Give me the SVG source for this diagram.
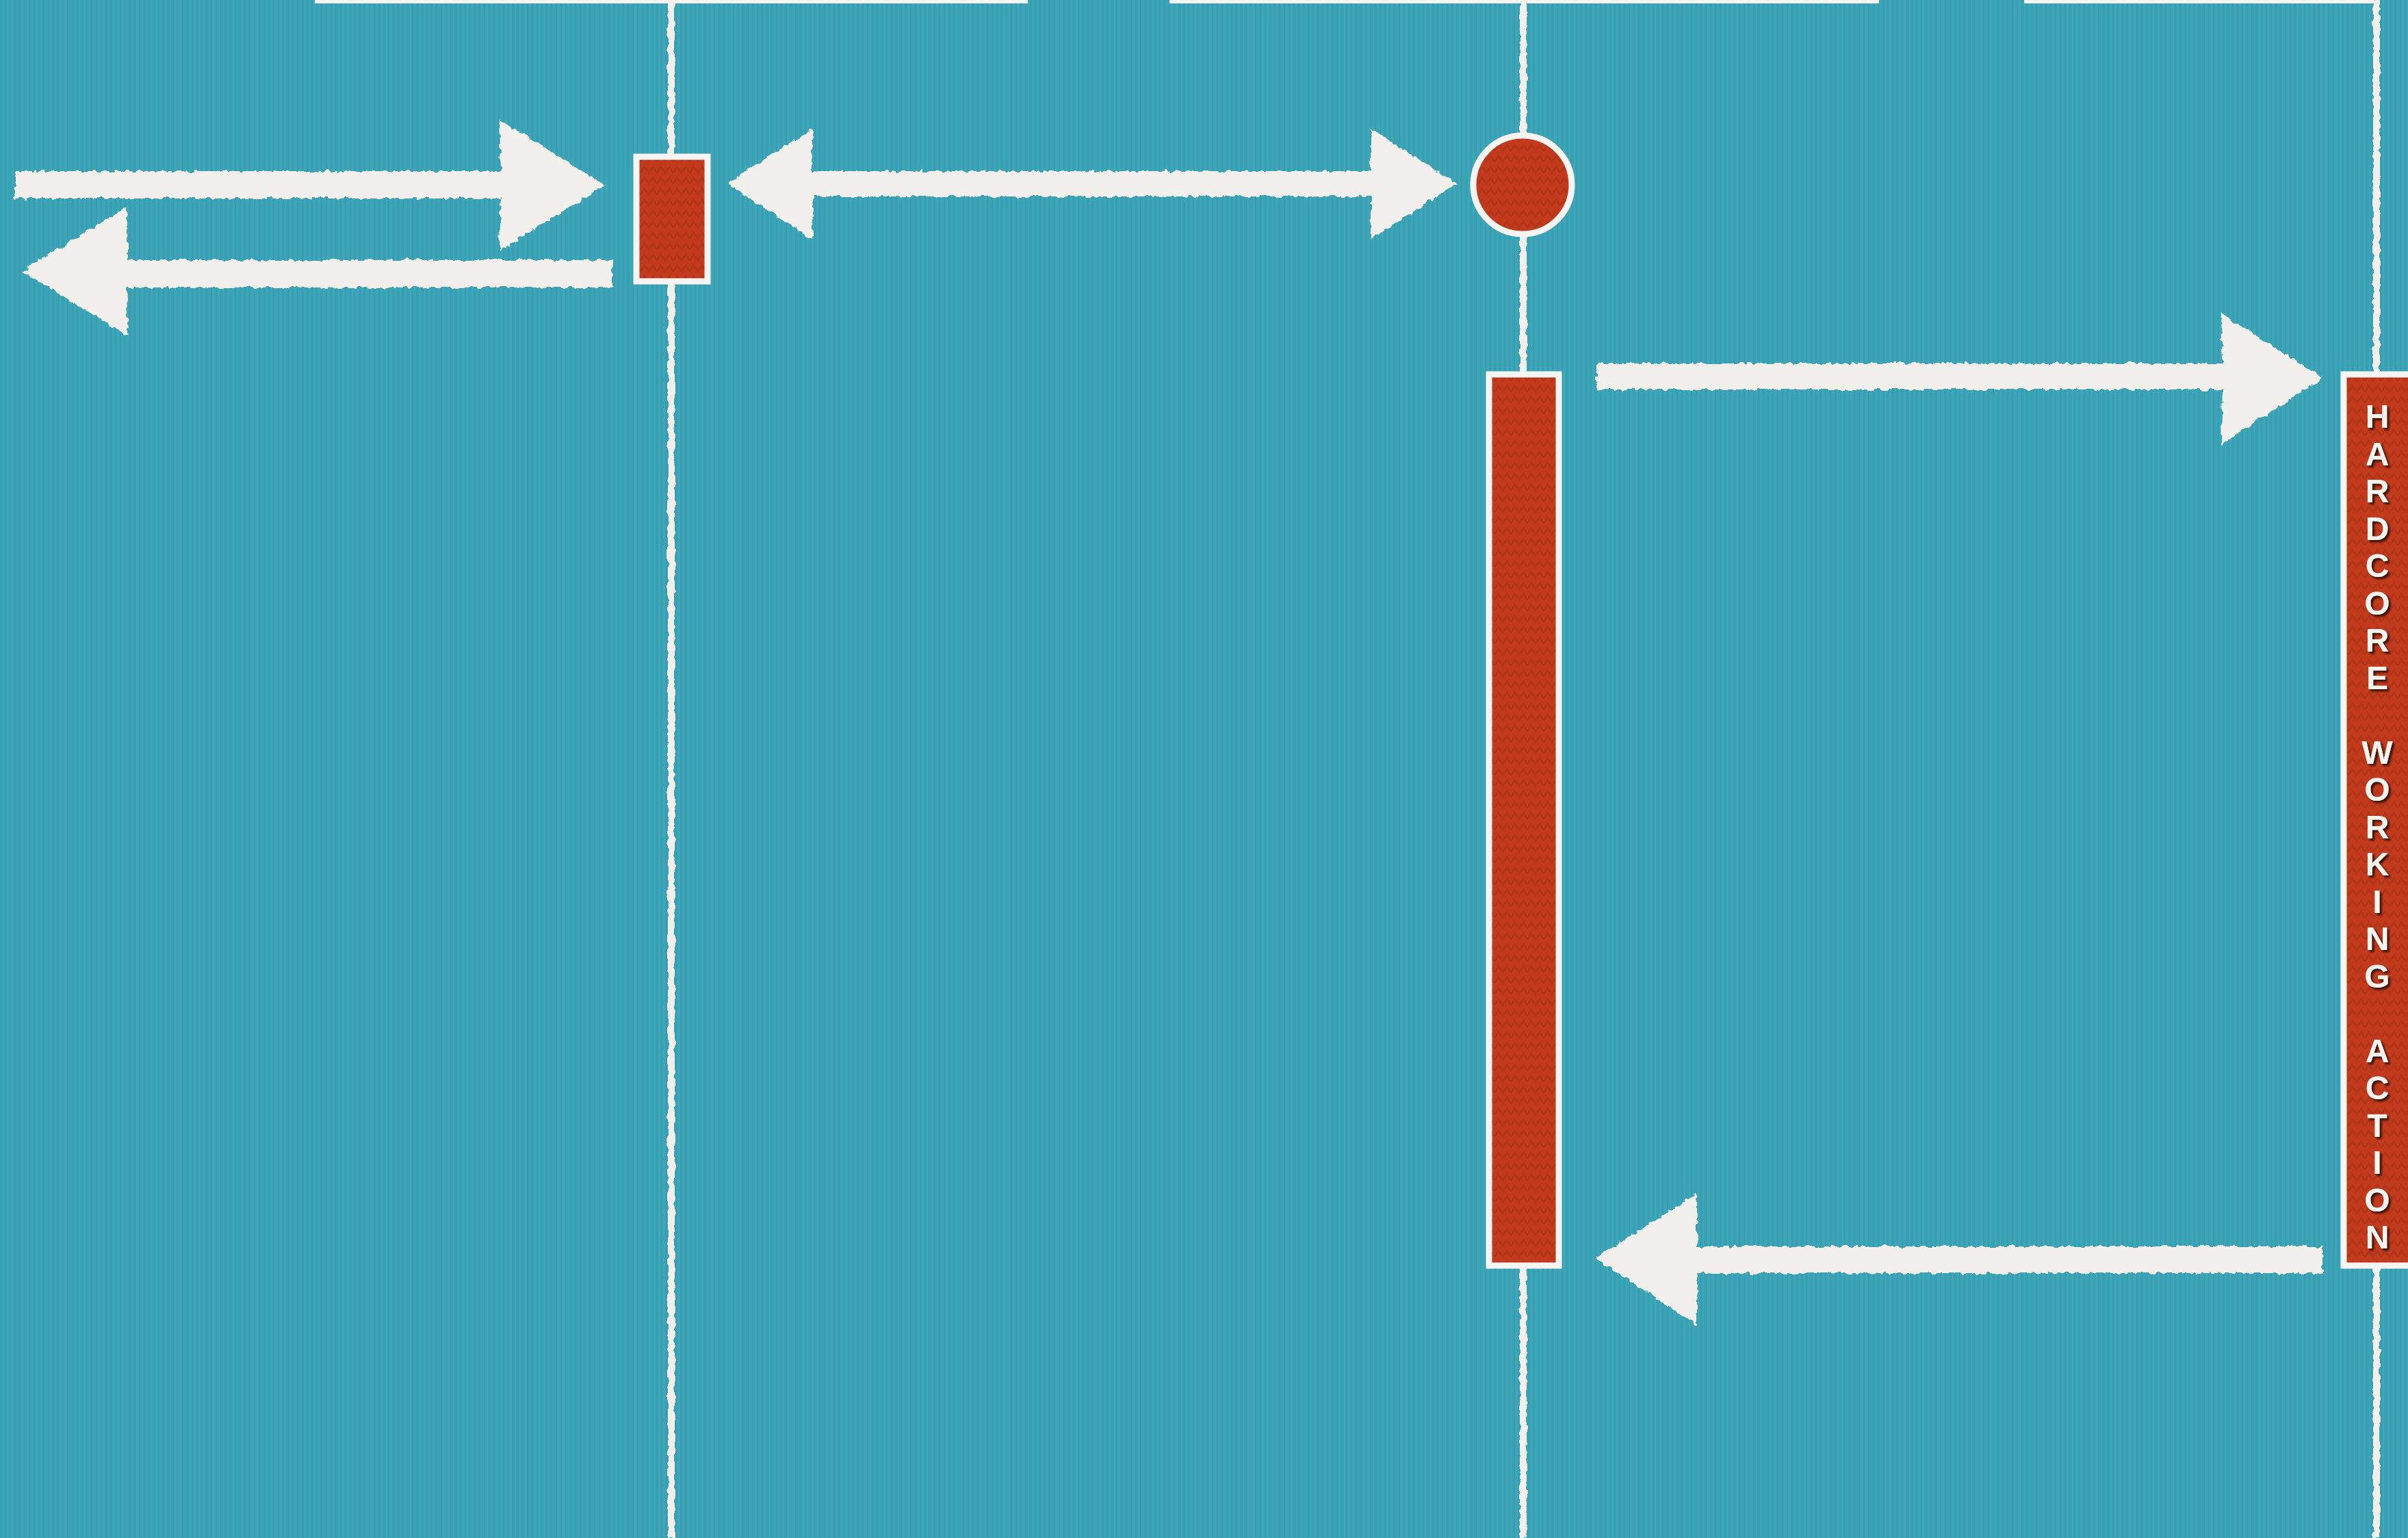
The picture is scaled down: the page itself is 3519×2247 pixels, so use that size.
<svg xmlns="http://www.w3.org/2000/svg" width="3519" height="2247" viewBox="0 0 3519 2247">
<defs>
<style>
.chalk{fill:#f1f0ec;filter:url(#rough)}
.lane{fill:#f1f0ec;filter:url(#roughLane)}
.bar{fill:#f4f4f2}
.node{fill:url(#redtex);stroke:#f6f5f2;stroke-width:9}
.lbl{font-family:"Liberation Sans Narrow","Liberation Sans",Arial,sans-serif;font-weight:bold;font-size:48px;fill:#f7f3ee;text-anchor:middle;filter:url(#shadow)}
</style>
<pattern id="stripes" width="7" height="40" patternUnits="userSpaceOnUse">
<rect width="7" height="40" fill="#3ba5b7"/>
<rect x="0" width="2" height="40" fill="#3497aa" opacity="0.55"/>
<rect x="4" width="1" height="40" fill="#46b0c1" opacity="0.5"/>
</pattern>
<pattern id="redtex" width="24" height="16" patternUnits="userSpaceOnUse">
<rect width="24" height="16" fill="#c23b1c"/>
<path d="M0 12 L6 4 L12 12 L18 4 L24 12" stroke="#b0321a" stroke-width="3" fill="none" opacity="0.7"/>
</pattern>
<filter id="rough" x="-5%" y="-5%" width="110%" height="110%">
<feTurbulence type="fractalNoise" baseFrequency="0.12" numOctaves="2" seed="3" result="n"/>
<feDisplacementMap in="SourceGraphic" in2="n" scale="9" xChannelSelector="R" yChannelSelector="G"/>
</filter>
<filter id="roughLane" filterUnits="userSpaceOnUse" x="0" y="0" width="3519" height="2247">
<feTurbulence type="fractalNoise" baseFrequency="0.1" numOctaves="2" seed="7" result="n"/>
<feDisplacementMap in="SourceGraphic" in2="n" scale="7" xChannelSelector="R" yChannelSelector="G"/>
</filter>
<filter id="shadow" x="-20%" y="-20%" width="140%" height="140%">
<feDropShadow dx="3" dy="3" stdDeviation="1.5" flood-color="#2a0904" flood-opacity="0.95"/>
</filter>
</defs>
<rect id="background" width="3519" height="2247" fill="url(#stripes)"/>
<g id="top-bars">
<rect class="bar" x="460" y="0" width="1042" height="5"/>
<rect class="bar" x="1709" y="0" width="1037" height="5"/>
<rect class="bar" x="2958" y="0" width="512" height="5"/>
</g>
<g id="lifelines">
<rect class="lane" x="976" y="0" width="10" height="2247"/>
<rect class="lane" x="2221" y="0" width="10" height="2247"/>
<rect class="lane" x="3468" y="0" width="10" height="2247"/>
</g>
<g id="connectors">
<polygon id="arrow-right-1" class="chalk" points="22,250 732,250 730,175 884,270 730,366 732,290 22,290"/>
<polygon id="arrow-left-1" class="chalk" points="895,380 186,380 186,302 32,396 186,490 186,420 895,420"/>
<polygon id="arrow-double" class="chalk" points="1062,268 1187,188 1187,250 2003,250 2003,188 2128,268 2003,350 2003,287 1187,287 1187,350"/>
<polygon id="arrow-right-2" class="chalk" points="2333,531 3248,531 3246,458 3394,552 3246,650 3248,569 2333,569"/>
<polygon id="arrow-left-2" class="chalk" points="3394,1821 2480,1821 2480,1744 2331,1838 2480,1936 2480,1860 3394,1860"/>
</g>
<g id="node-small">
<rect class="node" x="930" y="229" width="104" height="182"/>
</g>
<g id="node-circle">
<circle class="node" cx="2225" cy="270" r="72"/>
</g>
<g id="node-tall">
<rect class="node" x="2176" y="547" width="102" height="1302"/>
</g>
<g id="node-action">
<rect class="node" x="3425" y="547" width="110" height="1302"/>
<text class="lbl" x="3474" y="625">
<tspan x="3474" y="625">H</tspan><tspan x="3474" y="679.5">A</tspan><tspan x="3474" y="734">R</tspan><tspan x="3474" y="788.5">D</tspan><tspan x="3474" y="843">C</tspan><tspan x="3474" y="897.5">O</tspan><tspan x="3474" y="952">R</tspan><tspan x="3474" y="1006.5">E</tspan><tspan x="3474" y="1115.5">W</tspan><tspan x="3474" y="1170">O</tspan><tspan x="3474" y="1224.5">R</tspan><tspan x="3474" y="1279">K</tspan><tspan x="3474" y="1333.5">I</tspan><tspan x="3474" y="1388">N</tspan><tspan x="3474" y="1442.5">G</tspan><tspan x="3474" y="1551.5">A</tspan><tspan x="3474" y="1606">C</tspan><tspan x="3474" y="1660.5">T</tspan><tspan x="3474" y="1715">I</tspan><tspan x="3474" y="1769.5">O</tspan><tspan x="3474" y="1824">N</tspan>
</text>
</g>
</svg>
